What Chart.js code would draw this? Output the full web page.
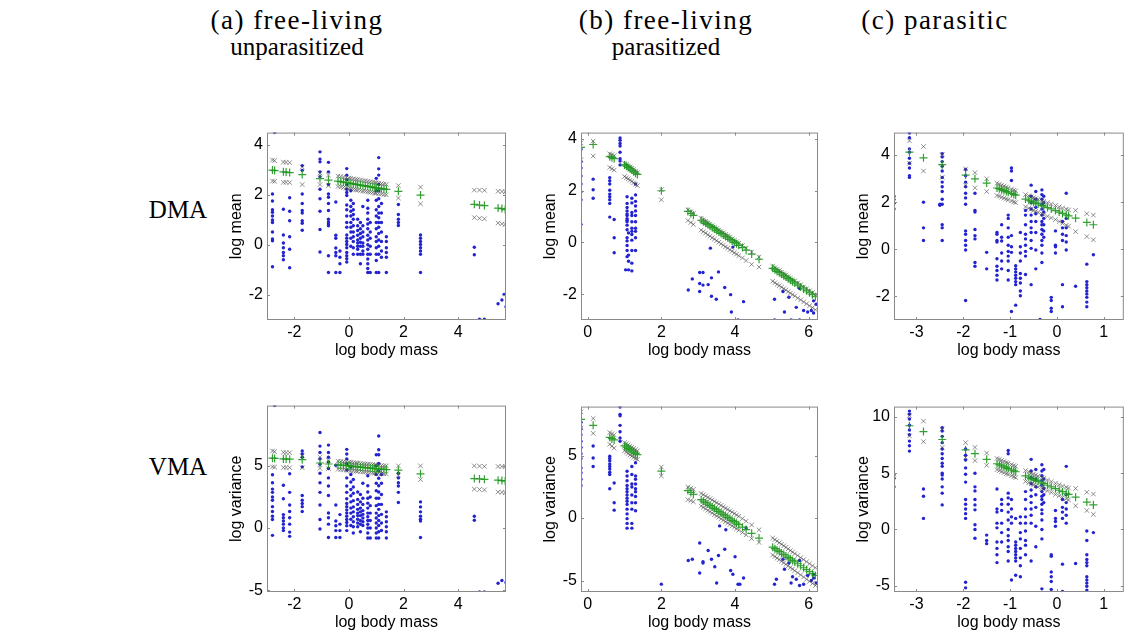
<!DOCTYPE html>
<html>
<head>
<meta charset="utf-8">
<script src="https://cdn.jsdelivr.net/npm/chart.js@4.4.1/dist/chart.umd.min.js"></script>
<style>
  body { margin: 0; background: #fff; width: 1129px; height: 637px; position: relative; overflow: hidden; }
  .lbl { position: absolute; font-family: 'Liberation Serif', 'Times New Roman', serif; font-size: 25px; color: #000; white-space: nowrap; transform: translate(-50%, -50%); }
  .head { font-size: 27px; letter-spacing: 1.5px; }
  canvas { position: absolute; }
</style>
</head>
<body>
<div class="lbl head" style="left:297px; top:20px">(a) free-living</div>
<div class="lbl" style="left:297px; top:47px">unparasitized</div>
<div class="lbl head" style="left:666px; top:20px">(b) free-living</div>
<div class="lbl" style="left:666px; top:47px">parasitized</div>
<div class="lbl head" style="left:935px; top:20px">(c) parasitic</div>
<div class="lbl" style="left:178px; top:210px">DMA</div>
<div class="lbl" style="left:178px; top:467px">VMA</div>

<canvas id="aMean"></canvas>
<canvas id="bMean"></canvas>
<canvas id="cMean"></canvas>
<canvas id="aVar"></canvas>
<canvas id="bVar"></canvas>
<canvas id="cVar"></canvas>

<script>
// ---- tick labels ----
const aXTicks = [-2, 0, 2, 4];
const bXTicks = [0, 2, 4, 6];
const cXTicks = [-3, -2, -1, 0, 1];
const meanYTicks = [-2, 0, 2, 4];
const varYTicks = [-5, 0, 5];
const cVarYTicks = [-5, 0, 5, 10];

// ---- (a) free-living unparasitized ----
// observed points, one entry per host body mass: [log body mass, [values]]
const aMeanObs = [
    [-2.80, [2.04, 1.76, 1.41, 1.31, 1.16, 1.00, 0.90, 0.52, 0.24, 0.17, -0.87]],
    [-2.72, [4.5]],
    [-2.40, [1.43, 0.40, 0.08, -0.11, -0.30, -0.43, -0.59]],
    [-2.17, [1.89, 1.35, 0.97, 0.33, -0.17, -0.91]],
    [-1.71, [3.18, 2.99, 2.04, 1.66, 1.38, 1.28, 0.97, 0.87, 0.59]],
    [-1.06, [3.73, 3.44, 3.33, 2.93, 2.74, 2.23, 1.85, 1.35, 0.62, -0.28]],
    [-0.75, [3.31, 2.93, 2.42, 2.04, 1.91, 1.66, 1.38, 1.03, 0.92, 0.84, 0.77, -0.43, -1.10]],
    [-0.48, [1.72, 0.39, 0.27, -0.12, -0.30, -0.43, -1.10]],
    [-0.33, [-0.24, -0.49, -0.75, -1.10]],
    [-0.08, [3.06, 2.80, 2.61, 2.42, 2.23, 2.10, 1.98, 1.60, 1.41, 1.16, 0.90, 0.71, 0.40, 0.27, 0.14, 0.02, -0.11, -0.30, -0.43, -0.55, -0.68]],
    [0.07, [2.17, 1.79, 1.54, 1.35, 1.16, 0.90, 0.71, 0.52, 0.27, -0.05]],
    [0.16, [1.66, 1.41, 1.22, 1.03, 0.77, 0.52, 0.33, 0.14, -0.11, -0.37]],
    [0.32, [1.03, 0.77, 0.58, 0.39, 0.20, 0.08, -0.05, -0.17, -0.37]],
    [0.42, [0.90, 0.65, 0.46, 0.27, 0.11, -0.05, -0.37, -0.75]],
    [0.51, [1.54, 0.77, 0.52, 0.33, 0.08, -0.05, -0.24, -0.37]],
    [0.69, [1.79, 1.47, 1.28, 1.03, 0.84, 0.65, 0.39, 0.20, 0.01, -0.17, -0.37, -0.56, -0.75, -0.94, -1.10]],
    [0.78, [0.90, 0.52, 0.27, -0.05, -0.37, -1.10]],
    [1.00, [2.67, 2.17, 1.79, 1.41, 1.16, 0.90, 0.65, 0.33, 0.14, -0.11, -0.37, -0.62, -1.10]],
    [1.09, [3.50, 3.05, 2.80, 2.42, 2.17, 1.85, 1.54, 1.28, 1.09, 0.90, 0.71, 0.46, 0.20, -0.05, -0.37, -1.10]],
    [1.19, [1.66, 1.28, 0.90, 0.52, 0.14, -0.24, -0.49]],
    [1.37, [0.33, 0.14, -0.11, -0.30, -0.49, -1.10]],
    [1.81, [1.62, 1.22, 1.03, 0.90, 0.78]],
    [2.62, [0.40, 0.27, 0.14, 0.02, -0.11, -0.24, -0.37, -1.10]],
    [4.59, [-0.09, -0.39]],
    [4.78, [-2.97]],
    [4.96, [-2.97]],
    [5.46, [-2.35]],
    [5.60, [-2.20]],
    [5.68, [-1.98]],
    [5.75, [-2.47]]
];
const aVarObs = [
    [-2.80, [4.28, 3.64, 3.13, 2.87, 2.49, 2.23, 1.72, 1.33, 0.95, 0.69, -0.59]],
    [-2.72, [9.85]],
    [-2.40, [3.44, 2.36, 1.08, 0.82, 0.56, 0.31, 0.0, -0.21]],
    [-2.17, [4.36, 2.87, 1.85, 1.33, 0.82, 0.31, -0.33, -0.67]],
    [-1.71, [6.2, 5.95, 5.69, 4.92, 2.62, 2.23, 1.97, 1.72, 1.33]],
    [-1.06, [7.69, 6.59, 6.08, 5.56, 5.13, 4.41, 3.64, 2.87, 1.85, 0.69, -0.08]],
    [-0.75, [6.67, 6.08, 5.69, 5.31, 4.79, 4.03, 3.38, 2.62, 1.21, 0.82, 0.31, -0.77]],
    [-0.48, [5.05, 1.85, 0.56, 0.18, -0.21, -0.77]],
    [-0.33, [1.08, 0.31, -0.21, -0.77]],
    [-0.08, [6.33, 5.95, 5.56, 5.18, 4.67, 4.03, 3.38, 2.87, 2.36, 1.97, 1.72, 1.46, 1.21, 0.95, 0.69, 0.44, 0.18, -0.21]],
    [0.07, [4.9, 4.3, 3.7, 3.1, 2.6, 2.1, 1.6, 1.2, 0.7, 0.2]],
    [0.16, [3.9, 3.3, 2.8, 2.2, 1.7, 1.3, 0.9, 0.5, 0.1, -0.4]],
    [0.32, [2.9, 2.3, 1.9, 1.5, 1.2, 1.0, 0.7, 0.4, 0.1]],
    [0.42, [2.7, 2.1, 1.6, 1.3, 1.0, 0.6, 0.3, -0.3]],
    [0.51, [3.6, 2.4, 1.9, 1.4, 1.1, 0.8, 0.5, 0.2]],
    [0.69, [4.2, 3.4, 2.9, 2.4, 2.0, 1.6, 1.2, 0.9, 0.6, 0.3, 0.0, -0.4, -0.8]],
    [0.78, [2.5, 1.8, 1.2, 0.6, 0.0, -0.8]],
    [1.00, [5.9, 5.0, 4.3, 3.6, 3.0, 2.4, 1.8, 1.2, 0.8, 0.4, 0.0, -0.4, -0.8]],
    [1.09, [7.4, 6.3, 5.9, 5.2, 4.6, 4.0, 3.4, 2.9, 2.4, 1.9, 1.5, 1.0, 0.6, 0.2, -0.3, -0.8]],
    [1.19, [4.3, 3.6, 2.7, 1.9, 1.1, 0.4, -0.2]],
    [1.37, [1.3, 0.9, 0.5, 0.1, -0.3, -0.8]],
    [1.81, [4.41, 4.03, 3.64, 3.38, 2.87, 2.05]],
    [2.62, [2.1, 1.7, 1.3, 0.95, 0.7, 0.56, -0.77]],
    [4.59, [0.95, 0.62]],
    [4.78, [-5.15]],
    [4.96, [-5.15]],
    [5.46, [-4.44]],
    [5.60, [-4.23]],
    [5.75, [-4.38]]
];
// predicted value (+) and the two bounds (x) for each host
const aFitX = [-2.8, -2.72, -2.4, -2.3, -2.17, -1.71, -1.06, -0.75, -0.4, -0.3, -0.2, -0.1, 0.0, 0.07, 0.16, 0.25, 0.32, 0.42, 0.51, 0.6, 0.69, 0.78, 0.87, 0.95, 1.0, 1.09, 1.19, 1.28, 1.37, 1.81, 2.62, 4.59, 4.78, 4.96, 5.46, 5.6, 5.72];
const aMeanPred = [3.0, 2.98, 2.93, 2.92, 2.9, 2.82, 2.66, 2.6, 2.56, 2.54, 2.52, 2.5, 2.48, 2.47, 2.45, 2.43, 2.42, 2.4, 2.38, 2.37, 2.35, 2.33, 2.32, 2.3, 2.29, 2.28, 2.26, 2.24, 2.23, 2.15, 2.0, 1.63, 1.6, 1.58, 1.48, 1.46, 1.42];
const aMeanHi = [3.4, 3.38, 3.32, 3.31, 3.3, 3.12, 2.88, 2.8, 2.76, 2.74, 2.72, 2.7, 2.68, 2.67, 2.65, 2.63, 2.62, 2.6, 2.58, 2.57, 2.55, 2.53, 2.52, 2.5, 2.49, 2.48, 2.46, 2.44, 2.43, 2.38, 2.32, 2.2, 2.2, 2.19, 2.15, 2.14, 2.13];
const aMeanLo = [2.56, 2.55, 2.51, 2.51, 2.5, 2.42, 2.42, 2.38, 2.34, 2.32, 2.3, 2.28, 2.26, 2.25, 2.23, 2.21, 2.2, 2.18, 2.16, 2.15, 2.13, 2.11, 2.1, 2.08, 2.07, 2.06, 2.04, 2.02, 2.01, 1.88, 1.65, 1.1, 1.07, 1.05, 0.88, 0.85, 0.82];
const aVarPred = [5.62, 5.6, 5.56, 5.55, 5.54, 5.5, 5.23, 5.15, 5.08, 5.06, 5.04, 5.02, 5.0, 4.98, 4.96, 4.94, 4.92, 4.9, 4.88, 4.86, 4.84, 4.82, 4.8, 4.78, 4.77, 4.75, 4.73, 4.71, 4.7, 4.65, 4.36, 3.98, 3.95, 3.92, 3.85, 3.82, 3.78];
const aVarHi = [6.2, 6.15, 6.08, 6.07, 6.06, 5.82, 5.7, 5.45, 5.38, 5.36, 5.34, 5.32, 5.3, 5.28, 5.26, 5.24, 5.22, 5.2, 5.18, 5.16, 5.14, 5.12, 5.1, 5.08, 5.07, 5.05, 5.03, 5.01, 5.0, 5.0, 5.0, 5.0, 4.98, 4.96, 4.95, 4.95, 4.95];
const aVarLo = [4.92, 4.9, 4.87, 4.87, 4.86, 4.85, 4.8, 4.78, 4.72, 4.7, 4.68, 4.66, 4.64, 4.62, 4.6, 4.58, 4.56, 4.54, 4.52, 4.5, 4.48, 4.46, 4.44, 4.42, 4.41, 4.4, 4.38, 4.36, 4.35, 4.25, 3.9, 3.13, 3.1, 3.07, 2.9, 2.87, 2.85];

// ---- (b) free-living parasitized ----
const bMeanObs = [
    [-0.18, [3.61, 3.12, 2.88, 2.57, 2.26, 1.96, 1.65, 0.70]],
    [0.15, [2.45, 2.04, 1.71]],
    [0.60, [2.51, 2.39, 2.26, 2.02, 1.87, 1.77, 1.65, 1.51, 0.98]],
    [0.72, [0.89, 0.18, -0.40]],
    [0.88, [4.04, 3.95, 3.83, 3.73, 3.49, 3.24, 3.15, 3.0]],
    [1.03, [-1.06]],
    [1.07, [1.77, 1.51, 1.35, 1.22, 1.10, 1.04, 0.92, 0.86, 0.80, 0.67, 0.49, 0.18, 0.06, -0.12, -0.31, -0.55]],
    [1.11, [0.37, -0.49, -0.73, -1.06]],
    [1.20, [1.71, 1.53, 1.16, 1.04, 0.80, 0.55, 0.43, 0.31, 0.09, -0.31, -0.80, -1.10]],
    [1.30, [2.26, 1.84, 1.59, 1.41, 1.22, 1.04, 0.80, 0.55, 0.43, 0.18, -0.31]],
    [2.73, [-1.84]], [2.84, [-1.41]], [3.04, [-1.16, -1.59, -1.90]], [3.13, [-1.16, -1.65]],
    [3.27, [-1.63]], [3.33, [-0.22]], [3.36, [-1.37, -2.08]], [3.49, [-2.2]], [3.55, [-1.14]],
    [3.72, [-1.74]], [3.88, [-2.02]], [3.90, [-2.69]], [3.94, [-0.18]], [4.08, [-3.0]], [4.23, [-2.29]],
    [5.07, [-2.2, -3.0]], [5.30, [-1.9]], [5.34, [-2.69]], [5.46, [-2.12]], [5.52, [-3.0]],
    [5.66, [-2.51]], [5.75, [-1.78, -3.0]], [5.86, [-2.63]], [5.97, [-2.69]], [6.07, [-2.63]],
    [6.13, [-2.26, -2.73]], [6.20, [-2.39]]
];
const bVarObs = [
    [-0.18, [7.67, 7.16, 6.66, 6.15, 5.65, 5.14, 4.76, 4.0, 3.62, 3.11, 2.61]],
    [0.15, [5.77, 4.81, 4.13]],
    [0.60, [4.94, 4.76, 4.58, 4.33, 4.13, 3.92, 3.67, 3.49, 2.35]],
    [0.72, [2.81, 1.22, 0.63]],
    [0.88, [8.89, 8.3, 8.18, 7.42, 6.91, 6.41, 6.15]],
    [1.07, [3.75, 3.37, 2.99, 2.61, 2.35, 2.1, 1.85, 1.59, 1.34, 1.09, 0.71, 0.33, -0.05, -0.43, -0.81]],
    [1.20, [4.13, 3.49, 2.73, 2.48, 1.85, 1.22, 0.71, -0.43, -0.81]],
    [1.30, [4.43, 3.37, 3.11, 2.73, 2.35, 2.1, 1.72, 1.22, 0.58]],
    [2.00, [-5.29]],
    [2.73, [-3.4]], [2.84, [-3.3]], [3.04, [-2.0, -4.4]], [3.13, [-3.5, -3.6]], [3.27, [-2.6]],
    [3.36, [-3.3]], [3.45, [-3.9]], [3.50, [-5.2]], [3.55, [-3.0]], [3.58, [-0.63]], [3.72, [-2.5]],
    [3.75, [-0.94]], [3.88, [-4.2]], [3.94, [-4.5]], [4.00, [-3.1]], [4.08, [-5.3]], [4.13, [-5.3]],
    [4.23, [-4.8]], [4.30, [-0.8]],
    [5.07, [-5.3]], [5.12, [-4.9]], [5.30, [-3.3]], [5.34, [-4.1]], [5.46, [-3.6]], [5.52, [-5.2]],
    [5.56, [-4.7]], [5.66, [-4.9]], [5.75, [-3.4, -5.4]], [5.86, [-5.3]], [5.97, [-4.6]],
    [6.07, [-5.0]], [6.13, [-4.5, -4.8]], [6.20, [-5.2]]
];
const bFitX = [-0.18, 0.15, 0.6, 0.66, 0.72, 1.0, 1.05, 1.1, 1.15, 1.2, 1.25, 1.3, 1.35, 2.0, 2.72, 2.8, 2.87, 3.08, 3.14, 3.2, 3.26, 3.32, 3.38, 3.44, 3.5, 3.56, 3.62, 3.68, 3.74, 3.8, 3.86, 3.92, 3.98, 4.04, 4.1, 4.2, 4.3, 4.45, 4.65, 5.02, 5.08, 5.14, 5.2, 5.26, 5.32, 5.38, 5.44, 5.5, 5.56, 5.62, 5.7, 5.78, 5.86, 5.94, 6.02, 6.1, 6.18];
const bMeanPred = [3.68, 3.79, 3.32, 3.28, 3.24, 3.0, 2.95, 2.9, 2.85, 2.8, 2.74, 2.68, 2.63, 2.0, 1.2, 1.12, 1.05, 0.86, 0.8, 0.74, 0.69, 0.63, 0.57, 0.52, 0.46, 0.4, 0.35, 0.29, 0.23, 0.18, 0.12, 0.06, 0.0, -0.05, -0.11, -0.2, -0.3, -0.45, -0.65, -1.0, -1.06, -1.12, -1.17, -1.23, -1.29, -1.34, -1.4, -1.46, -1.52, -1.57, -1.65, -1.72, -1.8, -1.87, -1.95, -2.02, -2.1];
const bMeanHi = [3.85, 3.92, 3.43, 3.4, 3.36, 3.06, 3.02, 2.97, 2.92, 2.87, 2.82, 2.76, 2.7, 2.04, 1.26, 1.19, 1.12, 0.93, 0.87, 0.82, 0.76, 0.7, 0.65, 0.59, 0.54, 0.48, 0.42, 0.37, 0.31, 0.25, 0.2, 0.14, 0.08, 0.03, -0.03, -0.12, -0.22, -0.37, -0.57, -0.92, -0.98, -1.04, -1.09, -1.15, -1.21, -1.26, -1.32, -1.38, -1.44, -1.49, -1.57, -1.64, -1.72, -1.79, -1.87, -1.94, -2.02];
const bMeanLo = [3.2, 3.34, 2.9, 2.85, 2.8, 2.55, 2.5, 2.46, 2.41, 2.36, 2.31, 2.25, 2.2, 1.65, 0.85, 0.77, 0.7, 0.48, 0.42, 0.36, 0.3, 0.24, 0.18, 0.13, 0.07, 0.01, -0.05, -0.11, -0.17, -0.22, -0.28, -0.34, -0.4, -0.45, -0.51, -0.6, -0.7, -0.85, -0.95, -1.5, -1.56, -1.62, -1.67, -1.73, -1.79, -1.84, -1.9, -1.96, -2.02, -2.07, -2.15, -2.22, -2.3, -2.37, -2.45, -2.52, -2.6];
const bVarPred = [7.9, 7.42, 6.45, 6.35, 6.25, 5.77, 5.67, 5.57, 5.47, 5.37, 5.27, 5.17, 5.07, 3.75, 2.2, 2.05, 1.9, 1.47, 1.35, 1.23, 1.12, 1.0, 0.88, 0.76, 0.65, 0.53, 0.41, 0.29, 0.18, 0.06, -0.06, -0.18, -0.29, -0.41, -0.53, -0.73, -0.92, -1.22, -1.6, -2.33, -2.45, -2.57, -2.68, -2.8, -2.92, -3.04, -3.15, -3.27, -3.39, -3.51, -3.66, -3.82, -3.98, -4.13, -4.29, -4.45, -4.6];
const bVarHi = [8.5, 7.97, 6.84, 6.75, 6.66, 6.03, 5.95, 5.86, 5.76, 5.67, 5.57, 5.47, 5.38, 4.08, 2.48, 2.4, 2.3, 1.97, 1.87, 1.76, 1.65, 1.55, 1.44, 1.33, 1.22, 1.12, 1.01, 0.9, 0.79, 0.68, 0.58, 0.47, 0.36, 0.25, 0.14, -0.05, -0.25, -0.55, -0.94, -1.6, -1.73, -1.85, -1.97, -2.1, -2.22, -2.35, -2.47, -2.6, -2.72, -2.85, -3.0, -3.17, -3.33, -3.5, -3.66, -3.82, -3.98];
const bVarLo = [7.2, 6.78, 5.9, 5.75, 5.6, 5.39, 5.28, 5.17, 5.05, 4.95, 4.85, 4.76, 4.7, 3.37, 1.47, 1.4, 1.3, 0.96, 0.85, 0.74, 0.62, 0.51, 0.4, 0.28, 0.17, 0.06, -0.06, -0.17, -0.29, -0.4, -0.51, -0.63, -0.74, -0.86, -0.97, -1.16, -1.35, -1.65, -1.95, -2.96, -3.08, -3.21, -3.33, -3.46, -3.58, -3.71, -3.83, -3.96, -4.08, -4.21, -4.38, -4.55, -4.72, -4.9, -5.07, -5.24, -5.4];

// ---- (c) parasitic ----
const cMeanObs = [
    [-3.48, [2.25, 2.11, 1.95, 1.71]],
    [-3.15, [4.93, 4.73, 4.26, 4.12, 3.86, 3.65, 3.45, 3.12, 3.05]],
    [-2.85, [2.0, 0.91, 0.37]],
    [-2.50, [1.91, 1.87]],
    [-2.45, [4.06, 3.92, 3.72, 3.52, 3.32, 3.05, 2.85, 2.65, 2.45, 2.12, 1.91, 1.04, 0.91, 0.37]],
    [-1.95, [3.39, 3.12, 2.85, 2.65, 2.38, 2.18, 1.91, 0.78, 0.64, 0.37, 0.17, -0.03, -2.17]],
    [-1.75, [2.38, 1.65, 1.58, 0.84, 0.58, 0.44, -0.56, -0.72]],
    [-1.50, [-0.13, -0.83]],
    [-1.28, [0.71, 0.64, 0.37, 0.31, -0.4, -0.72, -0.9, -1.1, -1.3]],
    [-1.18, [1.04, 0.51, 0.35, -0.16, -0.5, -0.83]],
    [-1.04, [1.45, 1.31, 0.91, 0.51, 0.17, -0.09, -0.29, -0.5, -0.9, -1.3]],
    [-0.97, [3.45, 3.32, 2.92, 0.58, 0.11, -0.13, -2.64]],
    [-0.88, [-0.7, -0.83, -0.96, -1.1, -1.23, -1.37, -1.5, -2.37]],
    [-0.78, [0.71, 0.11, -0.16, -0.5, -1.03, -1.23, -1.43, -1.77, -1.97]],
    [-0.67, [1.65, 1.45, 1.04, 0.64, 0.44, 0.17, -0.09, -0.29, -1.07]],
    [-0.55, [2.72, 2.25, 1.98, 1.71, 1.45, 1.18, 0.91, 0.71, 0.37, 0.04, -1.5]],
    [-0.45, [2.45, 2.12, 1.78, 1.51, 1.18, 0.71, -0.03, -0.83]],
    [-0.36, [-2.98]],
    [-0.32, [2.52, 2.32, 2.12, 1.91, 1.71, 1.45, 1.18, 1.04, 0.84, 0.64, 0.37, 0.17, -0.16, -0.56]],
    [-0.28, [2.25, 1.98, 1.58, 1.31, 1.04, 0.78, 0.51]],
    [-0.12, [-2.04, -2.17, -2.5, -2.64]],
    [-0.03, [0.78, 0.17, 0.11, -0.16]],
    [0.12, [1.18, 0.91, 0.64, 0.37, -1.5, -2.44]],
    [0.20, [2.38, 1.31, 0.91, 0.58, 0.31, -0.03]],
    [0.40, [-1.57]],
    [0.64, [-0.63, -1.37, -1.5, -1.63, -1.77, -1.9, -2.04, -2.24, -2.44]],
    [0.78, [-0.23]]
];
const cVarObs = [
    [-3.48, [4.82, 4.54, 3.78]],
    [-3.15, [10.5, 10.22, 9.8, 9.24, 8.82, 8.4, 7.84, 7.42, 6.95]],
    [-2.85, [3.59, 2.94, 0.98]],
    [-2.45, [9.02, 8.74, 8.26, 7.7, 7.14, 6.72, 6.3, 5.88, 5.6, 4.99, 4.82, 4.48, 3.78, 3.22, 2.18]],
    [-1.95, [7.14, 6.58, 6.16, 5.46, 4.9, 4.2, 2.66, 2.24, 1.82, 1.4, 0.98, -4.68, -5.18]],
    [-1.75, [4.99, 3.78, 3.42, 2.66, 2.18, 1.74, 0.42, 0.0, -0.78]],
    [-1.50, [-0.5, -0.98, -1.26]],
    [-1.28, [3.59, 1.82, 1.54, 0.56, 0.14, -1.12, -1.68, -2.24, -2.94]],
    [-1.18, [2.66, 2.24, 1.68, 0.56, -0.28, -1.12]],
    [-1.04, [7.0, 6.72, 3.22, 2.8, 2.24, 1.54, 0.84, 0.0, -0.56, -0.98, -1.54, -1.96, -2.8]],
    [-0.97, [2.66, 1.82, 1.12, 0.56, -4.48]],
    [-0.88, [0.98, -1.12, -1.4, -1.68, -1.96, -2.24, -2.52, -2.8, -4.06]],
    [-0.78, [1.12, 0.56, -0.28, -0.84, -1.68, -2.52, -3.22, -4.2]],
    [-0.67, [3.36, 2.66, 1.82, 1.12, 0.56, -0.14, -0.98, -1.4, -2.24]],
    [-0.55, [6.22, 5.18, 4.62, 4.06, 3.5, 2.94, 2.38, 1.82, 1.26, 0.56, -2.8]],
    [-0.45, [5.32, 4.48, 3.78, 3.08, 1.96, 0.28, -1.54]],
    [-0.32, [5.74, 5.18, 4.76, 4.34, 3.92, 3.36, 2.94, 2.66, 2.24, 1.74, 1.4, 0.84, 0.0, -0.84, -5.27]],
    [-0.28, [5.32, 4.48, 3.64, 3.08, 2.38]],
    [-0.12, [-2.24, -2.38, -3.78, -4.2, -4.62, -5.32]],
    [-0.03, [1.68, 0.98, 0.7, 0.28]],
    [0.12, [2.66, 1.96, 1.54, 0.98, -3.08, -5.5]],
    [0.20, [5.6, 3.08, 2.38, 1.82, 1.26, 0.56]],
    [0.40, [-3.02]],
    [0.64, [-0.14, -0.98, -2.24, -2.66, -2.94, -3.22, -4.2, -4.48, -4.76, -5.04, -5.38]],
    [0.78, [-0.28]]
];
const cFitX = [-3.15, -2.85, -2.45, -1.95, -1.75, -1.5, -1.28, -1.23, -1.18, -1.13, -1.08, -1.04, -0.97, -0.92, -0.88, -0.67, -0.6, -0.55, -0.5, -0.45, -0.4, -0.32, -0.28, -0.2, -0.12, -0.03, 0.05, 0.12, 0.2, 0.25, 0.4, 0.64, 0.78];
const cMeanPred = [4.12, 3.88, 3.59, 3.15, 2.99, 2.81, 2.6, 2.57, 2.53, 2.49, 2.45, 2.42, 2.37, 2.33, 2.3, 2.13, 2.08, 2.04, 2.0, 1.96, 1.93, 1.86, 1.83, 1.77, 1.71, 1.64, 1.58, 1.52, 1.46, 1.42, 1.32, 1.14, 1.04];
const cMeanHi = [4.6, 4.36, 4.02, 3.41, 3.25, 2.99, 2.8, 2.76, 2.72, 2.68, 2.64, 2.6, 2.55, 2.51, 2.48, 2.32, 2.27, 2.23, 2.19, 2.15, 2.12, 2.06, 2.03, 1.97, 1.92, 1.86, 1.8, 1.75, 1.7, 1.67, 1.65, 1.51, 1.45];
const cMeanLo = [3.65, 3.32, 3.05, 2.72, 2.61, 2.45, 2.28, 2.25, 2.21, 2.17, 2.13, 2.1, 2.05, 2.01, 1.98, 1.8, 1.74, 1.7, 1.65, 1.61, 1.57, 1.5, 1.47, 1.4, 1.33, 1.26, 1.18, 1.1, 1.02, 0.98, 0.75, 0.54, 0.4];
const cVarPred = [9.2, 8.68, 7.98, 7.06, 6.72, 6.22, 5.83, 5.74, 5.65, 5.56, 5.47, 5.4, 5.28, 5.19, 5.12, 4.75, 4.63, 4.54, 4.45, 4.36, 4.27, 4.13, 4.06, 3.92, 3.78, 3.62, 3.48, 3.35, 3.21, 3.12, 2.86, 2.43, 2.18];
const cVarHi = [10.1, 9.61, 8.91, 7.7, 7.28, 6.78, 6.3, 6.22, 6.13, 6.04, 5.95, 5.88, 5.76, 5.67, 5.6, 5.22, 5.1, 5.01, 4.92, 4.83, 4.74, 4.6, 4.53, 4.39, 4.25, 4.1, 3.97, 3.85, 3.74, 3.67, 3.64, 3.3, 3.14];
const cVarLo = [8.3, 7.79, 7.28, 6.39, 6.11, 5.69, 5.3, 5.22, 5.13, 5.04, 4.95, 4.88, 4.76, 4.67, 4.6, 4.25, 4.13, 4.04, 3.95, 3.86, 3.77, 3.63, 3.56, 3.42, 3.28, 3.1, 2.97, 2.85, 2.72, 2.62, 2.1, 1.68, 1.34];

// ---- styling ----
const blue = '#2323cf';
const green = 'rgba(30, 150, 30, 0.9)';
const gray = 'rgba(70, 70, 70, 0.6)';
const axisFont = { family: "'Liberation Sans', Arial, sans-serif", size: 16 };

/**
 * Flatten [x, [ys]] columns into scatter points
 */
function toPoints(cols) {
    const pts = [];
    cols.forEach(([x, ys]) => ys.forEach(y => pts.push({ x: x, y: y })));
    return pts;
}

function pair(xs, ys) {
    return xs.map((x, i) => ({ x: x, y: ys[i] }));
}

// grey box round the plot with small inward ticks
const boxPlugin = {
    id: 'box',
    afterDraw(chart) {
        const { ctx, chartArea: a, scales } = chart;
        ctx.save();
        ctx.strokeStyle = '#8a8a8a';
        ctx.lineWidth = 1;
        ctx.strokeRect(a.left + 0.5, a.top + 0.5, a.right - a.left - 1, a.bottom - a.top - 1);
        ctx.beginPath();
        scales.x.ticks.forEach(t => {
            const px = Math.round(scales.x.getPixelForValue(t.value)) + 0.5;
            ctx.moveTo(px, a.bottom); ctx.lineTo(px, a.bottom - 3);
            ctx.moveTo(px, a.top); ctx.lineTo(px, a.top + 3);
        });
        scales.y.ticks.forEach(t => {
            const py = Math.round(scales.y.getPixelForValue(t.value)) + 0.5;
            ctx.moveTo(a.left, py); ctx.lineTo(a.left + 3, py);
            ctx.moveTo(a.right, py); ctx.lineTo(a.right - 3, py);
        });
        ctx.stroke();
        ctx.restore();
    }
};

/**
 * One panel; box is the wanted plot area [left, top, right, bottom] on the page
 */
function makePanel(id, box, xRange, yRange, xTicks, yTicks, yTitle, obs, fitX, pred, hi, lo) {
    const yW = 40, xH = 40, padT = 4;
    const padR = box[2] > 1120 ? 1 : 6;
    const canvas = document.getElementById(id);
    const left = box[0] - yW, top = box[1] - padT;
    const w = box[2] - left + padR, h = box[3] + xH - top;
    canvas.style.left = left + 'px';
    canvas.style.top = top + 'px';
    canvas.width = w;
    canvas.height = h;
    canvas.style.width = w + 'px';
    canvas.style.height = h + 'px';

    return new Chart(canvas.getContext('2d'), {
        type: 'scatter',
        data: {
            datasets: [
                { data: pair(fitX, pred), pointStyle: 'cross', pointRadius: 4, borderColor: green, borderWidth: 1.2, backgroundColor: green },
                { data: pair(fitX, hi), pointStyle: 'crossRot', pointRadius: 3.2, borderColor: gray, borderWidth: 1, backgroundColor: gray },
                { data: pair(fitX, lo), pointStyle: 'crossRot', pointRadius: 3.2, borderColor: gray, borderWidth: 1, backgroundColor: gray },
                { data: toPoints(obs), pointStyle: 'circle', pointRadius: 1.7, borderWidth: 0, backgroundColor: blue, borderColor: blue }
            ]
        },
        options: {
            responsive: false,
            animation: false,
            layout: { padding: { top: padT, right: padR, left: 0, bottom: 0 } },
            plugins: { legend: { display: false }, tooltip: { enabled: false } },
            elements: { point: { hoverRadius: 0 } },
            scales: {
                x: {
                    type: 'linear', min: xRange[0], max: xRange[1],
                    afterFit: s => { s.height = xH; },
                    afterBuildTicks: s => { s.ticks = xTicks.map(v => ({ value: v })); },
                    grid: { display: false, drawTicks: false },
                    border: { display: false },
                    ticks: { font: axisFont, color: '#000', padding: 3, maxRotation: 0, autoSkip: false },
                    title: { display: true, text: 'log body mass', font: axisFont, color: '#000', padding: { top: 0, bottom: 0 } }
                },
                y: {
                    type: 'linear', min: yRange[0], max: yRange[1],
                    afterFit: s => { s.width = yW; },
                    afterBuildTicks: s => { s.ticks = yTicks.map(v => ({ value: v })); },
                    grid: { display: false, drawTicks: false },
                    border: { display: false },
                    ticks: { font: axisFont, color: '#000', padding: 4, autoSkip: false },
                    title: { display: true, text: yTitle, font: axisFont, color: '#000', padding: { top: 0, bottom: 0 } }
                }
            }
        },
        plugins: [boxPlugin]
    });
}

makePanel('aMean', [267, 123, 506, 320], [-3.0, 5.75], [-3, 4.5], aXTicks, meanYTicks, 'log mean', aMeanObs, aFitX, aMeanPred, aMeanHi, aMeanLo);
makePanel('bMean', [581, 123, 818, 320], [-0.18, 6.25], [-3, 4.25], bXTicks, meanYTicks, 'log mean', bMeanObs, bFitX, bMeanPred, bMeanHi, bMeanLo);
makePanel('cMean', [894, 123, 1128, 320], [-3.48, 1.43], [-3, 4.95], cXTicks, meanYTicks, 'log mean', cMeanObs, cFitX, cMeanPred, cMeanHi, cMeanLo);
makePanel('aVar', [267, 396, 506, 592], [-3.0, 5.75], [-5.15, 9.85], aXTicks, varYTicks, 'log variance', aVarObs, aFitX, aVarPred, aVarHi, aVarLo);
makePanel('bVar', [581, 397, 818, 592], [-0.18, 6.25], [-5.92, 8.92], bXTicks, varYTicks, 'log variance', bVarObs, bFitX, bVarPred, bVarHi, bVarLo);
makePanel('cVar', [894, 397, 1128, 592], [-3.48, 1.43], [-5.55, 10.9], cXTicks, cVarYTicks, 'log variance', cVarObs, cFitX, cVarPred, cVarHi, cVarLo);
</script>
</body>
</html>
